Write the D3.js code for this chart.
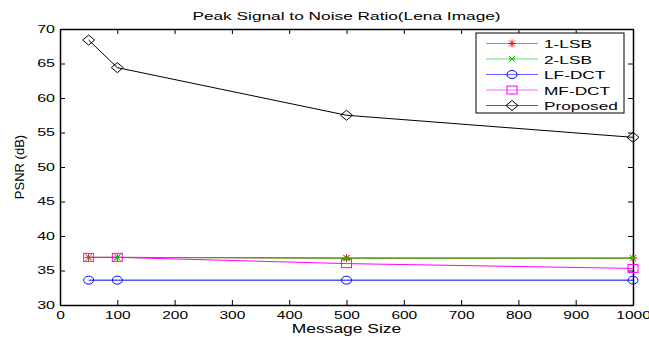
<!DOCTYPE html>
<html>
<head>
<meta charset="utf-8">
<script src="https://cdn.jsdelivr.net/npm/d3@7"></script>
<style>
  body { margin: 0; background: #fff; }
  svg { font-family: "Liberation Sans", Arial, sans-serif; }
</style>
</head>
<body>
<div id="chart"></div>
<script>
// data
var messageSizes = [50, 100, 500, 1000];
var lsb1 = [36.9, 36.9, 36.8, 36.8];
var lsb2 = [36.9, 36.9, 36.8, 36.8];
var lfDct = [33.6, 33.6, 33.6, 33.6];
var mfDct = [36.9, 36.9, 36.0, 35.3];
var proposed = [68.4, 64.4, 57.5, 54.3];
var xTicks = [0, 100, 200, 300, 400, 500, 600, 700, 800, 900, 1000];
var yTicks = [30, 35, 40, 45, 50, 55, 60, 65, 70];

var seriesNames = ['1-LSB', '2-LSB', 'LF-DCT', 'MF-DCT', 'Proposed'];
var seriesValues = [lsb1, lsb2, lfDct, mfDct, proposed];
var seriesColors = ['#ff0000', '#00cc00', '#0000ff', '#ff00ff', '#000000'];
var seriesMarkers = ['star', 'cross', 'circle', 'square', 'diamond'];

var width = 649, height = 337;
var margin = { top: 29, right: 16, bottom: 32, left: 60 };
var plotW = width - margin.left - margin.right;
var plotH = height - margin.top - margin.bottom;

var svg = d3.select('#chart').append('svg')
    .attr('width', width).attr('height', height);

// the original figure's lettering is wide (horizontally stretched) - mimic that
function stretch(sel, factor) {
  sel.each(function () {
    var w = this.getComputedTextLength();
    d3.select(this).attr('textLength', w * factor).attr('lengthAdjust', 'spacingAndGlyphs');
  });
}

var x = d3.scaleLinear().domain([0, 1000]).range([0, plotW]);
var y = d3.scaleLinear().domain([30, 70]).range([plotH, 0]);

var g = svg.append('g').attr('transform', 'translate(' + margin.left + ',' + margin.top + ')');

// axes with inward ticks (box style)
var tickLen = 5;
var axB = g.append('g').attr('transform', 'translate(0,' + plotH + ')')
    .call(d3.axisBottom(x).tickValues(xTicks).tickFormat(d3.format('d'))
        .tickSizeInner(-tickLen).tickSizeOuter(0).tickPadding(7));
var axL = g.append('g')
    .call(d3.axisLeft(y).tickValues(yTicks).tickSizeInner(-tickLen).tickSizeOuter(0).tickPadding(5));
var axT = g.append('g')
    .call(d3.axisTop(x).tickValues(xTicks).tickSizeInner(-tickLen).tickSizeOuter(0).tickFormat(''));
var axR = g.append('g').attr('transform', 'translate(' + plotW + ',0)')
    .call(d3.axisRight(y).tickValues(yTicks).tickSizeInner(-tickLen).tickSizeOuter(0).tickFormat(''));

[axB, axL, axT, axR].forEach(function (a) {
  a.selectAll('.domain').attr('stroke', '#000').attr('stroke-width', 1.5);
  a.selectAll('.tick line').attr('stroke', '#000');
  a.selectAll('.tick text').attr('font-size', 10).attr('fill', '#000')
      .attr('font-family', '"Liberation Sans", Arial, sans-serif');
});
stretch(axB.selectAll('.tick text'), 1.55);
stretch(axL.selectAll('.tick text'), 1.6);

// marker drawing helper
function drawMarker(sel, type, color) {
  if (type === 'circle') {
    sel.append('ellipse').attr('rx', 5).attr('ry', 4)
        .attr('fill', 'none').attr('stroke', color);
  } else if (type === 'square') {
    sel.append('rect').attr('x', -5).attr('y', -4).attr('width', 10).attr('height', 8)
        .attr('fill', 'none').attr('stroke', color);
  } else if (type === 'diamond') {
    sel.append('path').attr('d', 'M0,-5L6,0L0,5L-6,0Z')
        .attr('fill', 'none').attr('stroke', color);
  } else if (type === 'star') {
    sel.append('path').attr('d', 'M-4,0H4M0,-4V4M-3,-3L3,3M-3,3L3,-3')
        .attr('fill', 'none').attr('stroke', color);
  } else if (type === 'cross') {
    sel.append('path').attr('d', 'M-3,-3L3,3M-3,3L3,-3M-3,0H3')
        .attr('fill', 'none').attr('stroke', color);
  }
}

var line = d3.line()
    .x(function (d, i) { return x(messageSizes[i]); })
    .y(function (d) { return y(d); });

seriesValues.forEach(function (vals, k) {
  g.append('path').datum(vals)
      .attr('d', line)
      .attr('fill', 'none')
      .attr('stroke', seriesColors[k])
      .attr('stroke-width', 1);
  g.selectAll('.m' + k).data(vals).enter().append('g')
      .attr('class', 'm' + k)
      .attr('transform', function (d, i) { return 'translate(' + x(messageSizes[i]) + ',' + y(d) + ')'; })
      .each(function () { drawMarker(d3.select(this), seriesMarkers[k], seriesColors[k]); });
});

// legend
var lg = svg.append('g').attr('transform', 'translate(476,33)');
lg.append('rect').attr('width', 148).attr('height', 80)
    .attr('fill', '#fff').attr('stroke', '#000');
seriesNames.forEach(function (name, k) {
  var row = lg.append('g').attr('transform', 'translate(0,' + (10.5 + k * 15.5) + ')');
  row.append('line').attr('x1', 10).attr('x2', 62)
      .attr('stroke', seriesColors[k]).attr('stroke-opacity', 0.6);
  var m = row.append('g').attr('transform', 'translate(36,0)');
  drawMarker(m, seriesMarkers[k], seriesColors[k]);
  row.append('text').attr('x', 68).attr('y', 4.5)
      .attr('font-size', 11.5).text(name)
      .call(stretch, 1.5);
});

// titles
svg.append('text')
    .attr('x', margin.left + plotW / 2).attr('y', 20)
    .attr('text-anchor', 'middle').attr('font-size', 10.8)
    .text('Peak Signal to Noise Ratio(Lena Image)')
    .call(stretch, 1.6);
svg.append('text')
    .attr('x', margin.left + plotW / 2).attr('y', 333)
    .attr('text-anchor', 'middle').attr('font-size', 13.5)
    .text('Message Size')
    .call(stretch, 1.29);
svg.append('text')
    .attr('transform', 'translate(24,' + (margin.top + plotH / 2) + ') rotate(-90)')
    .attr('text-anchor', 'middle').attr('font-size', 13)
    .text('PSNR (dB)');
</script>
</body>
</html>
